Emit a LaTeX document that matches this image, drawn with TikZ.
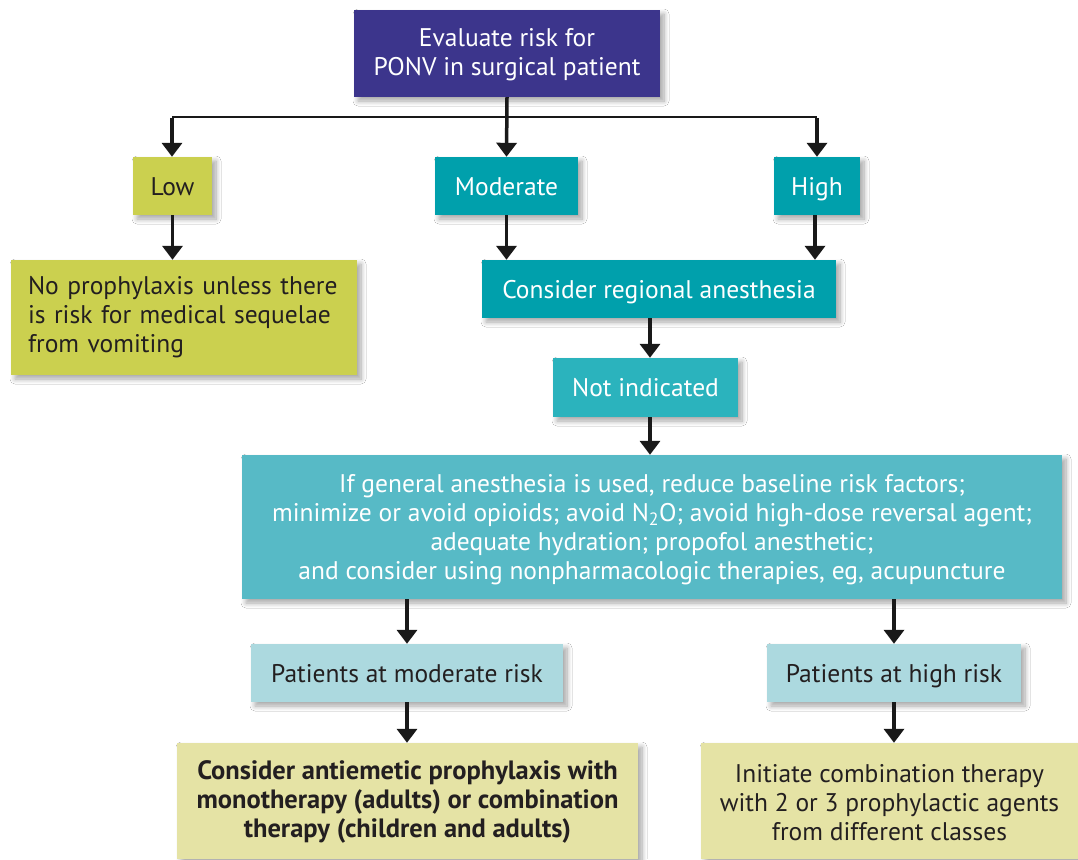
\documentclass[tikz,border=0pt]{standalone}
\usepackage{fontspec}
\setmainfont{PT Sans}
\usetikzlibrary{arrows.meta,shadows.blur}
\definecolor{cTop}{RGB}{60,53,140}
\definecolor{cTeal}{RGB}{0,160,172}
\definecolor{cTealB}{RGB}{43,179,189}
\definecolor{cTealC}{RGB}{87,186,198}
\definecolor{cLight}{RGB}{172,217,223}
\definecolor{cLow}{RGB}{203,208,79}
\definecolor{cPale}{RGB}{229,227,165}
\definecolor{cText}{RGB}{35,31,32}
\tikzset{
  box/.style={rectangle, inner sep=0pt, align=center,
    blur shadow={shadow xshift=4pt, shadow yshift=-4pt, shadow opacity=35, shadow blur radius=5pt, shadow blur steps=8},
    font=\fontsize{25.5}{29}\selectfont},
  oneline/.style={text height=18pt, text depth=0pt},
  darkbox/.style={box, fill=cTop, text=white},
  tealbox/.style={box, fill=cTeal, text=white},
  lowbox/.style={box, fill=cLow, text=cText},
  lightbox/.style={box, fill=cLight, text=cText},
  palebox/.style={box, fill=cPale, text=cText},
  arr/.style={line width=3.5pt, -{Triangle[width=20pt,length=14pt]}, black!90},
  hline/.style={line width=2.2pt, black!90}
}
\begin{document}
\begin{tikzpicture}[x=1pt,y=-1pt]
\useasboundingbox[fill=white] (0,0) rectangle (1078,859);
\node[darkbox, minimum width=306pt, minimum height=87pt] (top) at (507,53.5) {\rule{0pt}{21pt}Evaluate risk for\\PONV in surgical patient};
\node[lowbox, oneline, minimum width=79pt, minimum height=58pt] (low) at (172.5,186) {Low};
\node[tealbox, oneline, minimum width=143pt, minimum height=58pt] (mod) at (506.5,186) {Moderate};
\node[tealbox, oneline, minimum width=86pt, minimum height=58pt] (high) at (817,186) {High};
\node[lowbox, minimum width=346pt, minimum height=115pt, text width=312pt, align=left] (nopro) at (184,317.5) {No prophylaxis unless there\\is risk for medical sequelae\\from vomiting};
\node[tealbox, oneline, minimum width=354pt, minimum height=58pt] (cra) at (659,289) {Consider regional anesthesia};
\node[box, oneline, fill=cTealB, text=white, minimum width=185pt, minimum height=59pt] (noti) at (645.5,387.5) {Not indicated};
\node[box, fill=cTealC, text=white, minimum width=820pt, minimum height=144pt] (big) at (652,527) {\rule{0pt}{24pt}If general anesthesia is used, reduce baseline risk factors;\\minimize or avoid opioids; avoid N\textsubscript{2}O; avoid high-dose reversal agent;\\adequate hydration; propofol anesthetic;\\and consider using nonpharmacologic therapies, eg, acupuncture};
\node[lightbox, oneline, minimum width=312pt, minimum height=58pt] (pmr) at (407,673) {Patients at moderate risk};
\node[lightbox, oneline, minimum width=254pt, minimum height=58pt] (phr) at (894,673) {Patients at high risk};
\node[palebox, minimum width=461pt, minimum height=116pt, font=\fontsize{26.5}{29}\selectfont\bfseries] (bl) at (407.5,801) {\rule{0pt}{21pt}Consider antiemetic prophylaxis with\\monotherapy (adults) or combination\\therapy (children and adults)};
\node[palebox, minimum width=377pt, minimum height=116pt] (br) at (889.5,801) {\rule{0pt}{21pt}Initiate combination therapy\\with 2 or 3 prophylactic agents\\from different classes};
% branch
\coordinate (bL) at (172,117);
\coordinate (bR) at (817,117);
\coordinate (hx) at (815,0);
\coordinate (c1) at (650,0);
\draw[hline] (bL) -- (bR);
\draw[arr] (top.south) -- (mod.north);
\draw[arr] ([yshift=-1pt]bL) -- (low.north -| bL);
\draw[arr] ([yshift=-1pt]bR) -- (high.north -| bR);
\draw[arr] (low.south) -- (nopro.north -| low.south);
\draw[arr] (mod.south) -- (cra.north -| mod.south);
\draw[arr] (high.south -| hx) -- (cra.north -| hx);
\draw[arr] (cra.south -| c1) -- (noti.north -| c1);
\draw[arr] (noti.south -| c1) -- (big.north -| c1);
\draw[arr] (big.south -| pmr.north) -- (pmr.north);
\draw[arr] (big.south -| phr.north) -- (phr.north);
\draw[arr] (pmr.south) -- (bl.north -| pmr.south);
\draw[arr] (phr.south) -- (br.north -| phr.south);
\end{tikzpicture}
\end{document}
